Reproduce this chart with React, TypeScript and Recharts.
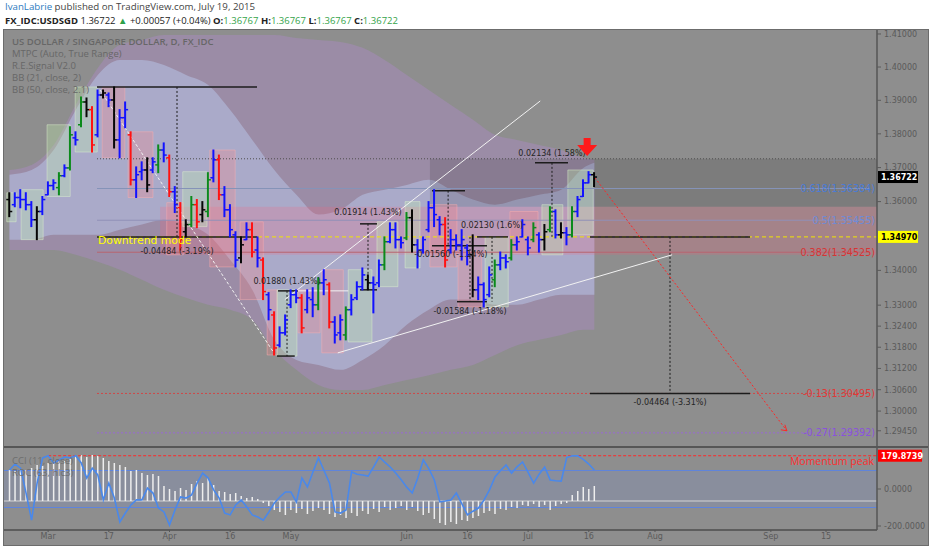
import React from 'react';
import {
  ComposedChart, Bar, Area, Line, XAxis, YAxis,
  ReferenceArea, ReferenceLine, ReferenceDot,
} from 'recharts';

const DJ = '"DejaVu Sans", Verdana, sans-serif';
const OS = '"Open Sans", Arial, sans-serif';

// ---------------- data (trading-day index 0 = Feb 19 2015) ----------------
const barHighs = [1.3626,1.3626,1.3635,1.3626,1.3600,1.3585,1.3615,1.3658,1.3664,1.3685,1.3708,1.3821,1.3806,1.3910,1.3907,1.3881,1.3931,1.3931,1.3922,1.3940,1.3872,1.3895,1.3806,1.3702,1.3717,1.3729,1.3729,1.3767,1.3773,1.3737,1.3644,1.3597,1.3547,1.3615,1.3606,1.3600,1.3685,1.3752,1.3737,1.3644,1.3591,1.3512,1.3497,1.3538,1.3538,1.3497,1.3436,1.3336,1.3281,1.3238,1.3272,1.3344,1.3344,1.3330,1.3344,1.3350,1.3379,1.3402,1.3364,1.3267,1.3272,1.3295,1.3330,1.3367,1.3407,1.3387,1.3381,1.3430,1.3497,1.3538,1.3538,1.3497,1.3568,1.3576,1.3489,1.3497,1.3600,1.3635,1.3556,1.3553,1.3518,1.3503,1.3518,1.3474,1.3503,1.3381,1.3364,1.3410,1.3430,1.3453,1.3445,1.3489,1.3497,1.3547,1.3497,1.3538,1.3509,1.3533,1.3585,1.3576,1.3538,1.3524,1.3585,1.3615,1.3664,1.3688,1.3685];
const barLows = [1.3556,1.3585,1.3582,1.3576,1.3527,1.3489,1.3562,1.3620,1.3635,1.3620,1.3673,1.3693,1.3767,1.3821,1.3851,1.3746,1.3791,1.3907,1.3881,1.3758,1.3729,1.3818,1.3649,1.3612,1.3664,1.3629,1.3685,1.3685,1.3717,1.3615,1.3568,1.3459,1.3497,1.3527,1.3524,1.3541,1.3556,1.3658,1.3606,1.3556,1.3497,1.3410,1.3422,1.3489,1.3439,1.3410,1.3316,1.3258,1.3158,1.3181,1.3215,1.3293,1.3307,1.3221,1.3278,1.3267,1.3287,1.3330,1.3235,1.3192,1.3201,1.3201,1.3272,1.3316,1.3344,1.3344,1.3278,1.3353,1.3402,1.3480,1.3465,1.3465,1.3489,1.3453,1.3407,1.3450,1.3512,1.3527,1.3503,1.3410,1.3450,1.3459,1.3430,1.3416,1.3324,1.3316,1.3295,1.3324,1.3353,1.3402,1.3407,1.3430,1.3459,1.3497,1.3445,1.3483,1.3453,1.3459,1.3512,1.3494,1.3494,1.3474,1.3497,1.3556,1.3615,1.3655,1.3644];
const barOpens = [1.3606,1.3591,1.3612,1.3606,1.3591,1.3547,1.3571,1.3620,1.3647,1.3641,1.3676,1.3699,1.3788,1.3827,1.3895,1.3872,1.3797,1.3916,1.3916,1.3901,1.3782,1.3848,1.3797,1.3664,1.3688,1.3693,1.3693,1.3708,1.3752,1.3729,1.3629,1.3582,1.3512,1.3533,1.3591,1.3562,1.3571,1.3670,1.3723,1.3620,1.3576,1.3503,1.3436,1.3489,1.3518,1.3459,1.3430,1.3330,1.3272,1.3186,1.3221,1.3301,1.3330,1.3321,1.3287,1.3316,1.3301,1.3364,1.3359,1.3252,1.3221,1.3215,1.3287,1.3321,1.3353,1.3373,1.3364,1.3364,1.3416,1.3483,1.3518,1.3489,1.3494,1.3553,1.3474,1.3459,1.3518,1.3582,1.3547,1.3533,1.3459,1.3489,1.3474,1.3465,1.3445,1.3344,1.3359,1.3330,1.3373,1.3416,1.3436,1.3436,1.3474,1.3497,1.3489,1.3489,1.3503,1.3489,1.3518,1.3571,1.3503,1.3509,1.3503,1.3571,1.3615,1.3655,1.3679];
const barCloses = [1.3571,1.3612,1.3606,1.3591,1.3547,1.3571,1.3606,1.3647,1.3655,1.3676,1.3699,1.3797,1.3782,1.3895,1.3872,1.3767,1.3916,1.3922,1.3901,1.3782,1.3848,1.3872,1.3664,1.3679,1.3693,1.3649,1.3717,1.3752,1.3737,1.3629,1.3591,1.3489,1.3533,1.3591,1.3541,1.3576,1.3664,1.3723,1.3620,1.3576,1.3518,1.3430,1.3474,1.3518,1.3453,1.3436,1.3339,1.3287,1.3178,1.3221,1.3258,1.3330,1.3321,1.3235,1.3321,1.3301,1.3364,1.3373,1.3252,1.3215,1.3258,1.3287,1.3316,1.3353,1.3387,1.3364,1.3359,1.3416,1.3483,1.3518,1.3489,1.3480,1.3553,1.3474,1.3459,1.3489,1.3582,1.3562,1.3533,1.3430,1.3489,1.3474,1.3489,1.3445,1.3344,1.3359,1.3316,1.3387,1.3416,1.3436,1.3425,1.3474,1.3483,1.3533,1.3465,1.3524,1.3489,1.3512,1.3571,1.3503,1.3509,1.3503,1.3571,1.3606,1.3655,1.3679,1.36722];
const barColorCodes = ['k','b','b','b','b','k','b','b','b','g','b','g','b','g','k','r','b','k','b','k','b','b','r','b','b','k','b','g','b','r','b','r','k','g','r','k','g','b','r','b','b','b','k','b','r','b','r','b','r','b','b','b','b','r','b','b','g','b','r','b','b','g','b','b','b','k','b','b','g','b','b','b','g','k','b','b','b','b','b','r','b','b','b','b','k','b','b','b','g','b','b','g','b','b','b','g','b','k','g','b','k','b','g','b','b','b','k'];

const bbIndex = [0,4,8,12,16,20,24,28,32,36,40,44,48,52,56,60,64,68,72,76,80,84,88,92,96,100,104,106];
const bb50Upper = [1.3693,1.3708,1.3767,1.3886,1.3997,1.4067,1.4082,1.4097,1.4097,1.4097,1.4097,1.4097,1.4097,1.4088,1.4082,1.4076,1.4058,1.4021,1.3976,1.3931,1.3886,1.3842,1.3797,1.3782,1.3767,1.3752,1.3729,1.3723];
const bb21Upper = [1.3679,1.3693,1.3752,1.3871,1.3976,1.4021,1.4021,1.4006,1.3976,1.3946,1.3871,1.3782,1.3693,1.3620,1.3562,1.3576,1.3620,1.3635,1.3649,1.3664,1.3635,1.3606,1.3591,1.3606,1.3620,1.3635,1.3699,1.3714];
const bb21Lower = [1.3489,1.3489,1.3503,1.3503,1.3503,1.3518,1.3533,1.3547,1.3533,1.3503,1.3430,1.3344,1.3201,1.3144,1.3130,1.3116,1.3144,1.3186,1.3244,1.3287,1.3316,1.3316,1.3301,1.3301,1.3316,1.3330,1.3330,1.3330];
const bb50Lower = [1.3459,1.3459,1.3459,1.3445,1.3425,1.3402,1.3373,1.3344,1.3321,1.3301,1.3287,1.3258,1.3172,1.3116,1.3073,1.3059,1.3059,1.3073,1.3087,1.3101,1.3116,1.3130,1.3158,1.3186,1.3201,1.3215,1.3230,1.3230];

const cciValues = [103,135,113,-22,-168,32,168,180,141,157,173,168,180,141,59,113,76,-59,32,-49,-178,-130,-86,-59,-59,5,-22,-103,-124,-195,-113,-43,-49,-32,32,86,59,-5,-49,-130,-140,-86,-59,-97,-140,-151,-168,-124,-76,-43,-16,-16,-70,59,11,92,168,100,32,-124,-130,-113,92,80,76,70,120,173,145,119,86,50,10,-22,60,157,110,49,-70,-65,-59,-22,-80,-140,-120,-103,-60,-5,65,100,130,86,120,146,90,32,80,119,49,45,43,170,180,179,160,135,103];
const rocValues = [3.1,3.0,3.2,3.1,3.3,3.6,3.5,3.8,4.0,4.1,4.0,4.2,4.5,4.6,4.4,4.6,4.5,4.3,4.0,3.8,3.6,3.4,3.0,3.1,2.8,2.6,2.7,2.5,1.5,1.2,1.0,1.3,1.1,1.7,2.0,1.8,2.3,1.6,1.0,0.9,0.7,0.8,0.5,0.3,0.4,0.2,-0.2,-0.5,-0.9,-1.1,-1.4,-0.9,-1.2,-0.8,-1.3,-1.0,-0.7,-0.9,-1.3,-1.6,-1.4,-1.7,-1.2,-1.5,-1.0,-1.3,-0.8,-1.1,-0.6,-0.9,-0.7,-0.5,-0.9,-0.6,-1.0,-1.4,-1.2,-1.8,-2.2,-2.4,-2.1,-2.3,-1.9,-2.0,-1.7,-1.5,-1.2,-1.0,-1.3,-0.8,-0.9,-0.6,-0.7,-0.4,-0.5,-0.3,-0.6,-0.4,-0.9,-0.5,-0.3,-0.2,0.6,1.0,1.4,1.2,1.5];

const dateTickIndex = [7,18,29,40,51,72,83,94,105,117,138,148];
const dateTickLabels = ['Mar','17','Apr','16','May','Jun','16','Jul','16','Aug','Sep','15'];
const priceTicks = [1.41,1.40,1.39,1.38,1.37,1.36,1.34,1.33,1.324,1.318,1.312,1.306,1.30,1.2945];
const cciTicks = [0,-200];

// MTPC boxes: [fromIndex, toIndex, top, bottom, kind]
const boxFrom = [-0.5,2.1,6.8,11.9,16.8,21.5,28.5,31.4,36.3,41.8,46.7,48.5,52.3,56.6,61.4,66.6,71.7,76.2,81.3,86.2,90.7,96.5,101.2];
const boxTo = [1.2,6.1,11,15.9,20.9,26,31.5,35.8,40.9,46,48.5,52.1,56.3,60.5,65.7,70.4,74.4,81.1,85.6,90.4,95.8,100.3,105.8];
const boxTop = [1.3626,1.3635,1.3827,1.3940,1.3940,1.3806,1.3597,1.3688,1.3752,1.3541,1.3344,1.3344,1.3344,1.3402,1.3402,1.3541,1.3600,1.3591,1.3453,1.3497,1.3571,1.3591,1.3693];
const boxBottom = [1.3541,1.3489,1.3615,1.3746,1.3729,1.3612,1.3445,1.3527,1.3410,1.3316,1.3158,1.3155,1.3221,1.3164,1.3195,1.3353,1.3407,1.3410,1.3295,1.3295,1.3450,1.3445,1.3503];
const boxKind = ['g','g','g','g','r','r','r','g','r','r','r','g','r','r','g','g','g','r','r','g','r','g','g'];

const fibLabels = ['0.618(1.36384)','0.5(1.35455)','0.382(1.34525)','-0.13(1.30495)','-0.27(1.29392)'];
const fibPrices = [1.36384,1.35455,1.34525,1.30495,1.29392];
const fibTextColors = ['#4a7bd6','#6f8ad6','#d83434','#e03838','#8a52dc'];
const fibLineColors = ['#8593b8','#9090b8','#b86470','#d04848','#9868d4'];
const fibDashed = [false,false,false,true,true];

// measurement tool horizontals: [x1, x2, price]
const measureH = [
  [15.86,44.86,1.3940],[15.86,44.86,1.3497],[48.67,52.29,1.3341],[48.49,51.7,1.3155],
  [63.53,66.61,1.3535],[63.53,66.61,1.3344],[76.58,82.56,1.3632],[76.58,86.55,1.3471],
  [81.11,86.55,1.3310],[84.74,90.36,1.3497],[95.25,101.23,1.3714],[105.22,134.22,1.3497],
  [105.22,134.22,1.30495],
];
// measurement tool verticals: [x, fromPrice, toPrice]
const measureV = [
  [30.36,1.3940,1.3497],[50.3,1.3341,1.3155],[64.98,1.3535,1.3344],[79.5,1.3632,1.3471],
  [83.47,1.3497,1.3310],[87.46,1.3497,1.3310],[98.33,1.3714,1.3497],[119.72,1.3497,1.30495],
];
const measureText = ['-0.04484 (-3.19%)','0.01880 (1.43%)','0.01914 (1.43%)','-0.01560 (-1.14%)','0.02130 (1.6%)','-0.01584 (-1.18%)','0.02134 (1.58%)','-0.04464 (-3.31%)'];
const measureTextX = [30.36,50.3,64.98,80,87.46,83.47,98.33,119.72];
const measureTextP = [1.3456,1.3370,1.3568,1.3448,1.3530,1.3284,1.3743,1.3025];

// trend lines [x1, p1, x2, p2]
const whiteDashed = [16.4,1.3931,47.8,1.3167];
const whiteUpper = [49.9,1.3316,96.2,1.3898];
const whiteLower = [59.5,1.3164,120.1,1.3445];
const whiteFlat = [52.29,1.3341,61.4,1.3341];
const redProjection = [106.1,1.3670,140.9,1.2945];

const X_DOMAIN: [number, number] = [-1, 157.24];
const P_DOMAIN: [number, number] = [1.29026, 1.41121];
const CCI_DOMAIN: [number, number] = [-221.6, 221.6];
const ROC_DOMAIN: [number, number] = [-2.9, 5.3];

const COLOR_MAP: Record<string, string> = { b: '#1212ff', g: '#0b8a1b', r: '#ff1212', k: '#060606' };

const bars = barHighs.map((h, i) => ({
  i, h, l: barLows[i], o: barOpens[i], c: barCloses[i], col: barColorCodes[i], range: [barLows[i], h],
}));
const bands = bbIndex.map((i, k) => ({
  i, outer: [bb50Lower[k], bb50Upper[k]], inner: [bb21Lower[k], bb21Upper[k]],
}));
const indicator = cciValues.map((v, i) => ({ i, cci: v, roc: rocValues[i] }));

const OhlcShape = (props: any) => {
  const { x, y, width, height, payload } = props;
  if (!payload || payload.h == null || x == null || y == null) return null;
  const top = Math.min(y, y + height);
  const hgt = Math.abs(height);
  const cx = x + width / 2;
  const lh = Math.log(payload.h);
  const ll = Math.log(payload.l);
  const span = lh - ll || 1;
  const yO = top + (hgt * (lh - Math.log(payload.o))) / span;
  const yC = top + (hgt * (lh - Math.log(payload.c))) / span;
  const col = COLOR_MAP[payload.col] || '#000';
  return (
    <g>
      <line x1={cx} x2={cx} y1={top - 0.5} y2={top + hgt + 0.5} stroke={col} strokeWidth={2} />
      <line x1={cx - 3} x2={cx} y1={yO} y2={yO} stroke={col} strokeWidth={1.5} />
      <line x1={cx} x2={cx + 3} y1={yC} y2={yC} stroke={col} strokeWidth={1.5} />
    </g>
  );
};

const textMark = (key: string, x: number, y: number, text: string, o: any, yAxisId?: string) => (
  <ReferenceDot
    key={key}
    x={x}
    y={y}
    r={1}
    yAxisId={yAxisId}
    ifOverflow="visible"
    zIndex={700}
    shape={(p: any) => (
      <text
        x={(p.cx ?? 0) + (o.dx || 0)}
        y={(p.cy ?? 0) + (o.dy || 0)}
        dy="0.35em"
        textAnchor={o.anchor || 'middle'}
        fontSize={o.size || 8}
        fontFamily={o.family || DJ}
        fontWeight={o.weight || 400}
        fill={o.fill || '#222'}
      >
        {text}
      </text>
    )}
  />
);

const axisBox = (key: string, y: number, text: string, bg: string, fg: string, w: number, yAxisId?: string) => (
  <ReferenceDot
    key={key}
    x={X_DOMAIN[1]}
    y={y}
    r={1}
    yAxisId={yAxisId}
    ifOverflow="visible"
    zIndex={900}
    shape={(p: any) => (
      <g>
        <rect x={(p.cx ?? 0) + 1} y={(p.cy ?? 0) - 6} width={w} height={12} fill={bg} />
        <text x={(p.cx ?? 0) + 4} y={(p.cy ?? 0)} dy="0.35em" fontSize={8} fontWeight={700} fontFamily={DJ} fill={fg}>
          {text}
        </text>
      </g>
    )}
  />
);

const seg = (key: string, s: number[], stroke: string, width: number, dash?: string, z = 400) => (
  <ReferenceLine
    key={key}
    segment={[{ x: s[0], y: s[1] }, { x: s[2], y: s[3] }]}
    stroke={stroke}
    strokeWidth={width}
    strokeDasharray={dash}
    ifOverflow="visible"
    zIndex={z}
  />
);

export default function App() {
  const xTickFmt = (v: number) => {
    const k = dateTickIndex.indexOf(v);
    return k >= 0 ? dateTickLabels[k] : '';
  };
  const legendStyle: React.CSSProperties = {
    position: 'absolute', left: 12, fontFamily: OS, fontSize: 9.5, color: '#676767',
    lineHeight: '12px', whiteSpace: 'nowrap', zIndex: 5,
  };
  return (
    <div style={{ position: 'absolute', left: 0, top: 0, width: 932, height: 550, background: '#ffffff', overflow: 'hidden' }}>
      {/* header */}
      <div style={{ position: 'absolute', left: 5, top: 0, fontFamily: OS, fontSize: 9.7, lineHeight: '14px', color: '#444', whiteSpace: 'nowrap' }}>
        <span style={{ color: '#2e7bc0' }}>IvanLabrie</span> published on TradingView.com, July 19, 2015
      </div>
      <div style={{ position: 'absolute', left: 5, top: 14, fontFamily: OS, fontSize: 9.5, lineHeight: '14px', color: '#222', whiteSpace: 'nowrap' }}>
        <b>FX_IDC:USDSGD</b> 1.36722 <span style={{ color: '#2ea04a' }}>▲</span> +0.00057 (+0.04%) <b>O:</b><span style={{ color: '#35a34a' }}>1.36767</span> <b>H:</b><span style={{ color: '#35a34a' }}>1.36767</span> <b>L:</b><span style={{ color: '#35a34a' }}>1.36767</span> <b>C:</b><span style={{ color: '#35a34a' }}>1.36722</span>
      </div>

      {/* frame */}
      <div style={{ position: 'absolute', left: 3, top: 29, width: 926, height: 517, boxSizing: 'border-box', border: '1px solid #6c6c6c', background: '#8e8e8e' }} />

      {/* main pane */}
      <div style={{ position: 'absolute', left: 4, top: 30 }}>
        <ComposedChart width={924} height={416} data={bars} margin={{ top: 0, right: 0, bottom: 0, left: 0 }}>
          <XAxis dataKey="i" type="number" domain={X_DOMAIN} allowDataOverflow ticks={dateTickIndex} hide />
          <YAxis
            orientation="right" type="number" scale="log" domain={P_DOMAIN} allowDataOverflow
            ticks={priceTicks} interval={0} width={51}
            tickFormatter={(v: number) => v.toFixed(5)}
            tick={{ fontSize: 8, fill: '#5a5a5a', fontFamily: DJ }}
            tickLine={{ stroke: '#5a5a5a' }} tickSize={4} tickMargin={3}
            axisLine={{ stroke: '#555555', strokeWidth: 1.5 }}
          />
          <Area data={bands} dataKey="outer" type="monotone" stroke="none" fill="#9b8ca6" fillOpacity={1} isAnimationActive={false} zIndex={100} />
          <Area data={bands} dataKey="inner" type="monotone" stroke="none" fill="#aaaac9" fillOpacity={1} isAnimationActive={false} zIndex={101} />

          <ReferenceArea x1={76.2} x2={X_DOMAIN[1]} y1={1.3585} y2={1.3726} fill="#000000" fillOpacity={0.12} stroke="none" zIndex={150} />
          <ReferenceArea x1={27.3} x2={X_DOMAIN[1]} y1={1.3445} y2={1.3585} fill="#ff5a78" fillOpacity={0.2} stroke="none" zIndex={151} />
          {boxFrom.map((f, k) => (
            <ReferenceArea
              key={'box' + k}
              x1={f} x2={boxTo[k]} y1={boxBottom[k]} y2={boxTop[k]}
              fill={boxKind[k] === 'g' ? '#c4f5ac' : '#ff8585'}
              fillOpacity={boxKind[k] === 'g' ? 0.3 : 0.27}
              stroke={boxKind[k] === 'g' ? '#dff5d0' : '#ffb0b0'}
              strokeOpacity={0.45}
              zIndex={160}
            />
          ))}

          {fibPrices.map((p, k) => seg('fib' + k, [15.86, p, 155.97, p], fibLineColors[k], 1, fibDashed[k] ? '2 2' : undefined, 300))}
          {seg('dot1372', [15.86, 1.3726, X_DOMAIN[1], 1.3726], '#4e4e4e', 1, '1 2', 300)}
          {seg('yellow', [15.86, 1.3497, X_DOMAIN[1], 1.3497], '#f2e600', 1, '4 3', 300)}

          {measureH.map((m, k) => seg('mh' + k, [m[0], m[2], m[1], m[2]], '#1c1c1c', 1.5, undefined, 320))}
          {measureV.map((m, k) => seg('mv' + k, [m[0], m[1], m[0], m[2]], '#1c1c1c', 1, '2 2', 320))}

          {seg('wd', whiteDashed, '#f2f2f2', 1, '3 2', 330)}
          {seg('wu', whiteUpper, '#f2f2f2', 1, undefined, 330)}
          {seg('wl', whiteLower, '#f2f2f2', 1, undefined, 330)}
          {seg('wf', whiteFlat, '#f2f2f2', 1, undefined, 330)}
          {seg('rp', redProjection, '#ff2626', 1, '2 2', 330)}

          <Bar dataKey="range" barSize={5} isAnimationActive={false} shape={<OhlcShape />} zIndex={400} />

          {measureText.map((t, k) => textMark('mt' + k, measureTextX[k], measureTextP[k], t, { size: 8, fill: '#252525' }))}
          {textMark('dtm', 15.86, 1.3486, 'Downtrend mode', { size: 10.8, fill: '#ffff00', anchor: 'start', dx: 1 })}
          {fibLabels.map((t, k) => textMark('fl' + k, X_DOMAIN[1], fibPrices[k], t, { size: 9.6, fill: fibTextColors[k], anchor: 'end', dx: -2 }))}

          <ReferenceDot
            x={redProjection[2]} y={redProjection[3]} r={1} ifOverflow="visible" zIndex={700}
            shape={(p: any) => (
              <path d={`M${p.cx - 6} ${p.cy - 1} L${p.cx} ${p.cy} L${p.cx - 2} ${p.cy - 6}`} stroke="#ff2626" strokeWidth={1} fill="none" />
            )}
          />
          <ReferenceDot
            x={104.7} y={1.3758} r={1} ifOverflow="visible" zIndex={700}
            shape={(p: any) => (
              <path
                d={`M${p.cx - 3.5} ${p.cy - 10} L${p.cx + 3.5} ${p.cy - 10} L${p.cx + 3.5} ${p.cy - 3} L${p.cx + 10} ${p.cy - 3} L${p.cx} ${p.cy + 8} L${p.cx - 10} ${p.cy - 3} L${p.cx - 3.5} ${p.cy - 3} Z`}
                fill="#ff1a1a"
              />
            )}
          />

          {axisBox('lastPrice', 1.36722, '1.36722', '#000000', '#ffffff', 40)}
          {axisBox('yellowPrice', 1.3497, '1.34970', '#ffff00', '#000000', 40)}
        </ComposedChart>
      </div>

      {/* legend texts of main pane */}
      <div style={{ ...legendStyle, top: 36, fontWeight: 600 }}>US DOLLAR / SINGAPORE DOLLAR, D, FX_IDC</div>
      <div style={{ ...legendStyle, top: 48 }}>MTPC (Auto, True Range)</div>
      <div style={{ ...legendStyle, top: 60 }}>R.E.Signal V2.0</div>
      <div style={{ ...legendStyle, top: 72 }}>BB (21, close, 2)</div>
      <div style={{ ...legendStyle, top: 84 }}>BB (50, close, 2.1)</div>

      {/* pane separator */}
      <div style={{ position: 'absolute', left: 4, top: 446, width: 924, height: 2, background: '#565656' }} />

      {/* indicator pane */}
      <div style={{ position: 'absolute', left: 4, top: 448 }}>
        <ComposedChart width={924} height={97} data={indicator} margin={{ top: 0, right: 0, bottom: 0, left: 0 }}>
          <XAxis
            dataKey="i" type="number" domain={X_DOMAIN} allowDataOverflow ticks={dateTickIndex} interval={0}
            tickFormatter={xTickFmt} height={15}
            tick={{ fontSize: 8, fill: '#5a5a5a', fontFamily: DJ }}
            tickLine={{ stroke: '#555555' }} tickSize={2} tickMargin={1}
            axisLine={{ stroke: '#4c4c4c', strokeWidth: 1.5 }}
          />
          <YAxis
            yAxisId="cci" orientation="right" type="number" domain={CCI_DOMAIN} allowDataOverflow
            ticks={cciTicks} interval={0} width={51}
            tickFormatter={(v: number) => v.toFixed(4)}
            tick={{ fontSize: 8, fill: '#5a5a5a', fontFamily: DJ }}
            tickLine={{ stroke: '#5a5a5a' }} tickSize={4} tickMargin={3}
            axisLine={{ stroke: '#555555', strokeWidth: 1.5 }}
          />
          <YAxis yAxisId="roc" type="number" domain={ROC_DOMAIN} allowDataOverflow hide />

          <ReferenceArea yAxisId="cci" x1={X_DOMAIN[0]} x2={X_DOMAIN[1]} y1={-100} y2={100} fill="#7890dc" fillOpacity={0.2} stroke="none" zIndex={100} />
          <ReferenceLine yAxisId="cci" y={100} stroke="#5f84dc" strokeWidth={1} zIndex={300} />
          <ReferenceLine yAxisId="cci" y={-100} stroke="#5f84dc" strokeWidth={1} zIndex={300} />
          <ReferenceLine yAxisId="roc" y={0} stroke="#d4d4d4" strokeWidth={1} zIndex={300} />

          <Bar yAxisId="roc" dataKey="roc" barSize={1.5} fill="#eeeeee" isAnimationActive={false} zIndex={350} />

          <ReferenceLine
            yAxisId="cci"
            segment={[{ x: 7, y: 179.8739 }, { x: X_DOMAIN[1], y: 179.8739 }]}
            stroke="#ff2a2a" strokeWidth={1} strokeDasharray="3 2" zIndex={360}
          />
          <Line yAxisId="cci" dataKey="cci" type="linear" stroke="#4a88ea" strokeWidth={1.6} dot={false} isAnimationActive={false} zIndex={400} />

          {textMark('mom', X_DOMAIN[1], 151, 'Momentum peak', { size: 10.5, fill: '#ff2d2d', anchor: 'end', dx: -3, family: OS }, 'cci')}
          {axisBox('cciPeak', 179.8739, '179.8739', '#ff0000', '#ffffff', 44, 'cci')}
        </ComposedChart>
      </div>

      <div style={{ ...legendStyle, top: 455, color: '#6e6e6e' }}>CCI (11, close)</div>
      <div style={{ ...legendStyle, top: 467, color: '#6e6e6e' }}>ROC (63, hlc3)</div>
    </div>
  );
}
